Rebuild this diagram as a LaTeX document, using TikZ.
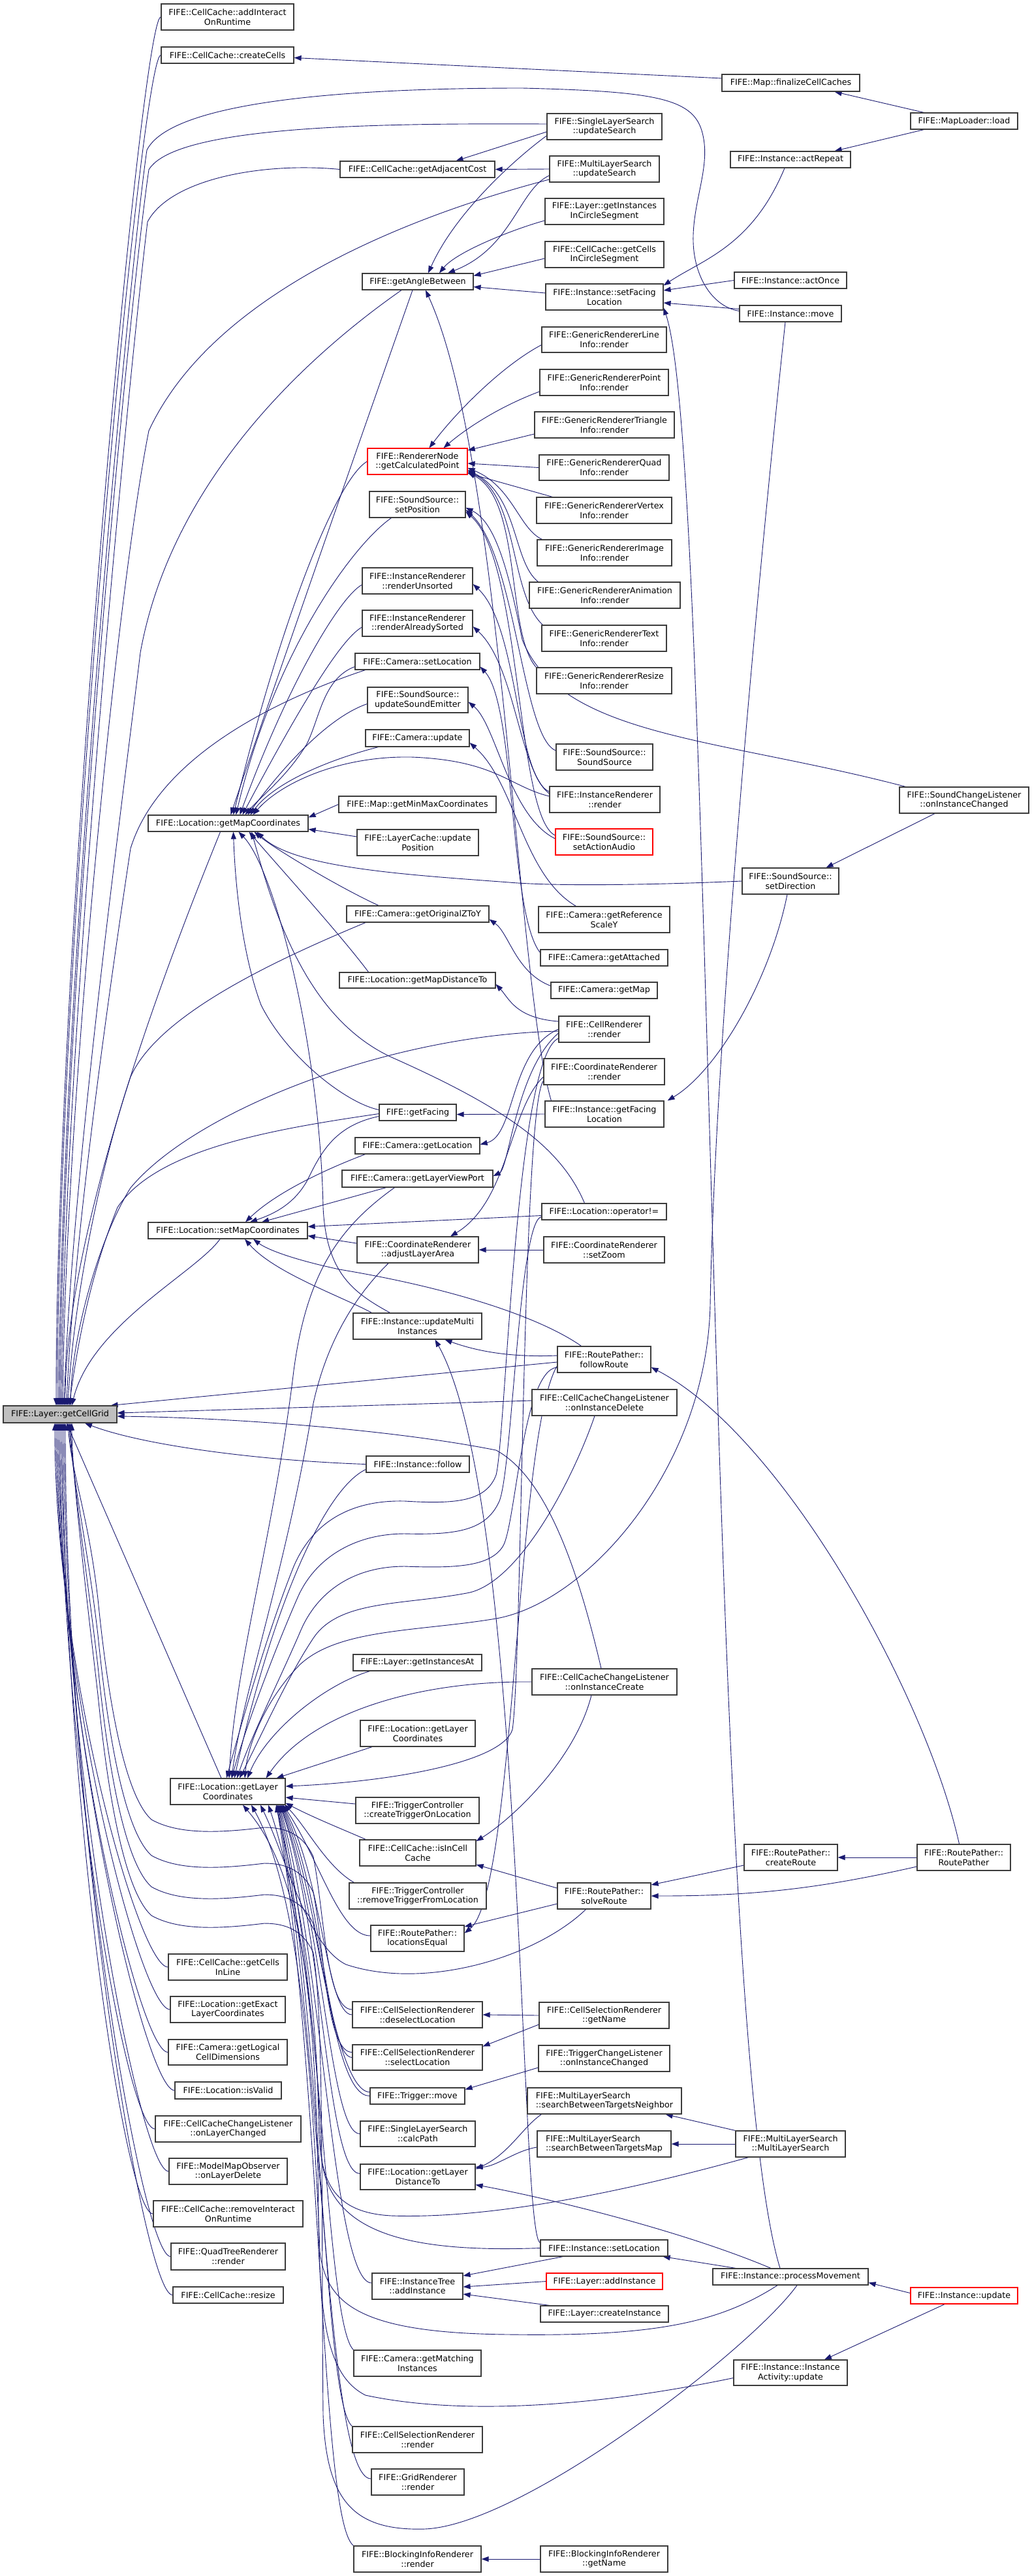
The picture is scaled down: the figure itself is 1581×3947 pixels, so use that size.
\documentclass[tikz,border=0pt]{standalone}
\usepackage{fontspec}
\setmainfont{DejaVu Sans}
\usetikzlibrary{arrows.meta}
\definecolor{navy}{RGB}{25,25,112}
\definecolor{bord}{RGB}{60,60,60}
\pgfdeclarelayer{bg}
\pgfsetlayers{bg,main}
\tikzset{
 bx/.style={draw=bord,line width=1.2pt,fill=white,inner sep=0pt,align=center,font=\fontsize{12.7pt}{14.7pt}\selectfont,text=black},
 redbx/.style={draw=red},
 edg/.style={draw=navy,line width=0.9pt,-{Triangle[length=11pt,width=8pt]}}
}
\newcommand\nd[7][]{\node[bx,#1,minimum width={(#5-#3)*1pt},minimum height={(#6-#4)*1pt}] (#2) at ({(#3+#5)/2},{-(#4+#6)/2}) {#7};}
\newcommand\gS[3]{\draw[edg] (#1) .. controls +(-40,0) and (497,{-#2-130}) .. (480,{-#2-45}) .. controls (465,{-#2-12}) and (440,{-#2}) .. (405,{-#2}) .. controls (340,{-#2-8}) and (275,{-#2-12}) .. (232,{-#2+12}) .. controls (190,{-#2+50}) and (165,{-#2+200}) .. (150,{-#2+350}) .. controls (135,{-#2+480}) and (110,-2260) .. ([xshift=#3pt]gcg.south);}
\begin{document}
\begin{tikzpicture}[x=1pt,y=1pt]
\useasboundingbox (0,0) rectangle (1581,-3947);
% ---------- nodes ----------
\nd[fill=gray!50]{gcg}{5}{2154}{179}{2180}{FIFE::Layer::getCellGrid}
\nd{addInteract}{247}{6}{450}{46}{FIFE::CellCache::addInteract\\OnRuntime}
\nd{createCells}{247}{72}{450}{97}{FIFE::CellCache::createCells}
\nd{getMapC}{227}{1249}{472}{1274}{FIFE::Location::getMapCoordinates}
\nd{setMapC}{227}{1873}{471}{1898}{FIFE::Location::setMapCoordinates}
\nd{getLayerC}{261}{2725}{437}{2765}{FIFE::Location::getLayer\\Coordinates}
\nd{cellsLine}{258}{2994}{440}{3034}{FIFE::CellCache::getCells\\InLine}
\nd{exactLC}{261}{3059}{437}{3099}{FIFE::Location::getExact\\LayerCoordinates}
\nd{logicalCD}{258}{3125}{440}{3164}{FIFE::Camera::getLogical\\CellDimensions}
\nd{isValid}{268}{3190}{431}{3216}{FIFE::Location::isValid}
\nd{onLayerCh}{238}{3242}{461}{3282}{FIFE::CellCacheChangeListener\\::onLayerChanged}
\nd{onLayerDel}{259}{3307}{440}{3347}{FIFE::ModelMapObserver\\::onLayerDelete}
\nd{removeIR}{235}{3372}{464}{3412}{FIFE::CellCache::removeInteract\\OnRuntime}
\nd{quadTree}{262}{3437}{437}{3478}{FIFE::QuadTreeRenderer\\::render}
\nd{resize}{265}{3504}{434}{3529}{FIFE::CellCache::resize}
% rank 2
\nd{adjCost}{521}{247}{758}{272}{FIFE::CellCache::getAdjacentCost}
\nd{angle}{555}{419}{725}{444}{FIFE::getAngleBetween}
\nd[redbx]{calcPoint}{563}{687}{716}{727}{FIFE::RendererNode\\::getCalculatedPoint}
\nd{ssSetPos}{566}{753}{713}{793}{FIFE::SoundSource::\\setPosition}
\nd{irUnsorted}{555}{870}{724}{910}{FIFE::InstanceRenderer\\::renderUnsorted}
\nd{irSorted}{555}{935}{724}{975}{FIFE::InstanceRenderer\\::renderAlreadySorted}
\nd{camSetLoc}{544}{1001}{735}{1026}{FIFE::Camera::setLocation}
\nd{ssEmitter}{563}{1053}{717}{1092}{FIFE::SoundSource::\\updateSoundEmitter}
\nd{camUpdate}{560}{1118}{719}{1144}{FIFE::Camera::update}
\nd{minMax}{519}{1220}{760}{1245}{FIFE::Map::getMinMaxCoordinates}
\nd{lcUpdate}{547}{1271}{733}{1311}{FIFE::LayerCache::update\\Position}
\nd{zToY}{531}{1388}{749}{1413}{FIFE::Camera::getOriginalZToY}
\nd{mapDist}{520}{1490}{759}{1514}{FIFE::Location::getMapDistanceTo}
\nd{getFacing}{581}{1692}{699}{1717}{FIFE::getFacing}
\nd{camGetLoc}{544}{1743}{735}{1768}{FIFE::Camera::getLocation}
\nd{viewPort}{524}{1793}{755}{1819}{FIFE::Camera::getLayerViewPort}
\nd{adjustArea}{547}{1895}{733}{1935}{FIFE::CoordinateRenderer\\::adjustLayerArea}
\nd{updMulti}{541}{2012}{738}{2052}{FIFE::Instance::updateMulti\\Instances}
\nd{follow}{561}{2231}{719}{2256}{FIFE::Instance::follow}
\nd{instAt}{541}{2535}{738}{2560}{FIFE::Layer::getInstancesAt}
\nd{getLayerCb}{552}{2636}{728}{2676}{FIFE::Location::getLayer\\Coordinates}
\nd{createTrig}{545}{2754}{734}{2794}{FIFE::TriggerController\\::createTriggerOnLocation}
\nd{isInCell}{551}{2819}{729}{2859}{FIFE::CellCache::isInCell\\Cache}
\nd{removeTrig}{535}{2885}{745}{2925}{FIFE::TriggerController\\::removeTriggerFromLocation}
\nd{locEqual}{568}{2950}{711}{2990}{FIFE::RoutePather::\\locationsEqual}
\nd{deselect}{540}{3067}{739}{3107}{FIFE::CellSelectionRenderer\\::deselectLocation}
\nd{select}{540}{3133}{739}{3172}{FIFE::CellSelectionRenderer\\::selectLocation}
\nd{trigMove}{567}{3199}{712}{3224}{FIFE::Trigger::move}
\nd{calcPath}{552}{3250}{728}{3289}{FIFE::SingleLayerSearch\\::calcPath}
\nd{layerDist}{552}{3316}{728}{3355}{FIFE::Location::getLayer\\DistanceTo}
\nd{addInst}{570}{3483}{709}{3523}{FIFE::InstanceTree\\::addInstance}
\nd{matching}{542}{3601}{737}{3641}{FIFE::Camera::getMatching\\Instances}
\nd{csRender}{540}{3718}{739}{3758}{FIFE::CellSelectionRenderer\\::render}
\nd{gridRender}{569}{3783}{711}{3823}{FIFE::GridRenderer\\::render}
\nd{blockRender}{542}{3901}{737}{3941}{FIFE::BlockingInfoRenderer\\::render}
% rank 3
\nd{slsUpdate}{838}{174}{1014}{214}{FIFE::SingleLayerSearch\\::updateSearch}
\nd{mlsUpdate}{842}{239}{1010}{279}{FIFE::MultiLayerSearch\\::updateSearch}
\nd{instCircle}{835}{304}{1017}{344}{FIFE::Layer::getInstances\\InCircleSegment}
\nd{cellsCircle}{835}{370}{1017}{410}{FIFE::CellCache::getCells\\InCircleSegment}
\nd{setFacing}{836}{435}{1016}{475}{FIFE::Instance::setFacing\\Location}
\nd{grLine}{830}{501}{1021}{540}{FIFE::GenericRendererLine\\Info::render}
\nd{grPoint}{827}{566}{1024}{606}{FIFE::GenericRendererPoint\\Info::render}
\nd{grTri}{819}{631}{1033}{671}{FIFE::GenericRendererTriangle\\Info::render}
\nd{grQuad}{826}{697}{1025}{736}{FIFE::GenericRendererQuad\\Info::render}
\nd{grVertex}{822}{762}{1029}{802}{FIFE::GenericRendererVertex\\Info::render}
\nd{grImage}{823}{827}{1029}{867}{FIFE::GenericRendererImage\\Info::render}
\nd{grAnim}{811}{892}{1042}{932}{FIFE::GenericRendererAnimation\\Info::render}
\nd{grText}{830}{958}{1021}{998}{FIFE::GenericRendererText\\Info::render}
\nd{grResize}{822}{1023}{1029}{1063}{FIFE::GenericRendererResize\\Info::render}
\nd{ssCtor}{852}{1140}{1000}{1180}{FIFE::SoundSource::\\SoundSource}
\nd{irRender}{842}{1205}{1011}{1245}{FIFE::InstanceRenderer\\::render}
\nd[redbx]{ssAction}{851}{1270}{1000}{1310}{FIFE::SoundSource::\\setActionAudio}
\nd{refScale}{825}{1389}{1026}{1429}{FIFE::Camera::getReference\\ScaleY}
\nd{getAttached}{828}{1455}{1023}{1480}{FIFE::Camera::getAttached}
\nd{getMap}{844}{1505}{1007}{1530}{FIFE::Camera::getMap}
\nd{cellRender}{856}{1557}{995}{1597}{FIFE::CellRenderer\\::render}
\nd{coordRender}{833}{1622}{1018}{1662}{FIFE::CoordinateRenderer\\::render}
\nd{getFacingLoc}{835}{1687}{1017}{1727}{FIFE::Instance::getFacing\\Location}
\nd{opNe}{830}{1844}{1021}{1869}{FIFE::Location::operator!=}
\nd{setZoom}{833}{1895}{1018}{1935}{FIFE::CoordinateRenderer\\::setZoom}
\nd{followRoute}{854}{2063}{997}{2103}{FIFE::RoutePather::\\followRoute}
\nd{onDelete}{815}{2129}{1037}{2169}{FIFE::CellCacheChangeListener\\::onInstanceDelete}
\nd{onCreate}{815}{2557}{1037}{2597}{FIFE::CellCacheChangeListener\\::onInstanceCreate}
\nd{solveRoute}{854}{2885}{997}{2925}{FIFE::RoutePather::\\solveRoute}
\nd{csGetName}{826}{3068}{1025}{3108}{FIFE::CellSelectionRenderer\\::getName}
\nd{trigChange}{825}{3134}{1026}{3174}{FIFE::TriggerChangeListener\\::onInstanceChanged}
\nd[align=left]{stNeighbor}{808}{3199}{1044}{3239}{FIFE::MultiLayerSearch\\::searchBetweenTargetsNeighbor}
\nd[align=left]{stMap}{823}{3265}{1028}{3305}{FIFE::MultiLayerSearch\\::searchBetweenTargetsMap}
\nd{setLoc}{828}{3432}{1023}{3457}{FIFE::Instance::setLocation}
\nd[redbx]{layerAdd}{837}{3483}{1015}{3508}{FIFE::Layer::addInstance}
\nd{layerCreate}{828}{3533}{1024}{3558}{FIFE::Layer::createInstance}
\nd{blockName}{828}{3901}{1023}{3941}{FIFE::BlockingInfoRenderer\\::getName}
% rank 4
\nd{finalize}{1106}{114}{1317}{140}{FIFE::Map::finalizeCellCaches}
\nd{actRepeat}{1119}{232}{1303}{257}{FIFE::Instance::actRepeat}
\nd{actOnce}{1125}{417}{1297}{442}{FIFE::Instance::actOnce}
\nd{move}{1133}{468}{1289}{493}{FIFE::Instance::move}
\nd{setDir}{1137}{1330}{1285}{1370}{FIFE::SoundSource::\\setDirection}
\nd{createRoute}{1140}{2826}{1283}{2866}{FIFE::RoutePather::\\createRoute}
\nd{mlsCtor}{1127}{3265}{1295}{3305}{FIFE::MultiLayerSearch\\::MultiLayerSearch}
\nd{procMove}{1092}{3476}{1330}{3501}{FIFE::Instance::processMovement}
\nd{actUpdate}{1124}{3616}{1298}{3655}{FIFE::Instance::Instance\\Activity::update}
% rank 5
\nd{loader}{1395}{173}{1559}{198}{FIFE::MapLoader::load}
\nd{sndChange}{1378}{1206}{1576}{1246}{FIFE::SoundChangeListener\\::onInstanceChanged}
\nd{rpCtor}{1405}{2826}{1548}{2866}{FIFE::RoutePather::\\RoutePather}
\nd[redbx]{instUpdate}{1395}{3505}{1559}{3530}{FIFE::Instance::update}
% ---------- edges ----------
\begin{pgfonlayer}{bg}
\fill[white] (0,0) rectangle (1581,-3947);
% top right cluster
\draw[edg] ([xshift=21pt]loader.north west) -- ([xshift=-39pt]finalize.south east);
\draw[edg] ([xshift=21pt]loader.south west) -- ([xshift=-25pt]actRepeat.north east);
\draw[edg] ([yshift=7pt]finalize.west) -- ([yshift=-4pt]createCells.east);
\draw[edg] ([xshift=-9pt]actRepeat.south) .. controls +(-50,-120) and +(60,40) .. ([yshift=-3pt]setFacing.north east);
\draw[edg] (actOnce.west) -- ([yshift=10pt]setFacing.east);
\draw[edg] ([yshift=7pt]move.west) -- ([yshift=-9pt]setFacing.east);
\draw[edg] ([xshift=-16pt]procMove.north) .. controls (1080,-3100) and (1095,-700) .. ([yshift=4pt]setFacing.south east);
\draw[edg] ([yshift=4pt]move.west) .. controls (1090,-470) and (1060,-420) .. (1062,-360) .. controls (1064,-300) and (1090,-250) .. (1075,-200) .. controls (1060,-150) and (1000,-140) .. (800,-135) .. controls (500,-135) and (260,-160) .. (225,-230) .. controls (200,-400) and (94,-1500) .. ([xshift=-2pt]gcg.north);
\draw[edg] ([xshift=-8pt]move.south) .. controls (1160,-900) and (1095,-1600) .. (1088,-2000) .. controls (1082,-2250) and (900,-2455) .. (760,-2480) .. controls (640,-2500) and (520,-2495) .. (460,-2550) .. controls (410,-2600) and (380,-2670) .. ([xshift=26pt]getLayerC.north);
% search
\draw[edg] ([yshift=4pt]slsUpdate.west) .. controls (600,-189) and (270,-190) .. (228,-260) .. controls (200,-450) and (96,-1500) .. (gcg.north);
\draw[edg] ([yshift=-8pt]slsUpdate.west) -- ([xshift=-60pt]adjCost.north east);
\draw[edg] ([yshift=-14pt]slsUpdate.west) .. controls (800,-235) and (700,-320) .. ([xshift=16pt]angle.north);
\draw[edg] (mlsUpdate.west) -- (adjCost.east);
\draw[edg] ([yshift=-10pt]mlsUpdate.west) .. controls (795,-290) and (785,-380) .. ([xshift=46pt]angle.north);
\draw[edg] ([yshift=-16pt]mlsUpdate.west) .. controls (650,-325) and (330,-440) .. (228,-660) .. controls (180,-900) and (100,-1700) .. ([xshift=4pt]gcg.north);
\draw[edg] ([yshift=-14pt]instCircle.west) .. controls (790,-350) and (700,-385) .. ([xshift=33pt]angle.north);
\draw[edg] ([yshift=-6pt]cellsCircle.west) -- ([yshift=9pt]angle.east);
\draw[edg] ([yshift=6pt]setFacing.west) -- ([yshift=-8pt]angle.east);
\draw[edg] (adjCost.west) .. controls (400,-248) and (260,-275) .. (226,-340) .. controls (195,-600) and (98,-1600) .. ([xshift=2pt]gcg.north);
\draw[edg] ([xshift=-8pt]angle.south) .. controls (560,-650) and (420,-1050) .. ([xshift=4pt]getMapC.north);
\draw[edg] ([xshift=-25pt]angle.south) .. controls (450,-560) and (260,-750) .. (215,-1000) .. controls (185,-1250) and (110,-1800) .. ([xshift=6pt]gcg.north);
\draw[edg] ([xshift=10pt]getFacingLoc.north west) .. controls (790,-1500) and (770,-700) .. ([xshift=12pt]angle.south);
\draw[edg] (addInteract.west) .. controls +(-30,0) and +(0,700) .. ([xshift=-6pt]gcg.north);
\draw[edg] (createCells.west) .. controls +(-30,0) and +(0,700) .. ([xshift=-4pt]gcg.north);
% generic renderers
\draw[edg] ([yshift=-8pt]grLine.west) .. controls (770,-560) and (700,-630) .. ([xshift=18pt]calcPoint.north);
\draw[edg] ([yshift=-14pt]grPoint.west) .. controls (760,-625) and (710,-660) .. ([xshift=40pt]calcPoint.north);
\draw[edg] ([yshift=-14pt]grTri.west) -- ([yshift=17pt]calcPoint.east);
\draw[edg] (grQuad.west) -- ([yshift=-3pt]calcPoint.east);
\draw[edg] ([xshift=25pt]grVertex.north west) -- ([yshift=-18pt]calcPoint.east);
\draw[edg] ([xshift=8pt]grImage.north west) .. controls (795,-810) and (785,-745) .. ([yshift=-10pt]calcPoint.east);
\draw[edg] ([xshift=14pt]grAnim.north west) .. controls (785,-860) and (795,-760) .. ([yshift=-13pt]calcPoint.east);
\draw[edg] ([xshift=2pt]grText.north west) .. controls (780,-910) and (795,-760) .. ([yshift=-15pt]calcPoint.east);
\draw[edg] (grResize.north west) .. controls (775,-970) and (800,-765) .. ([yshift=-17pt]calcPoint.east);
% into getMapCoordinates (top)
\draw[edg] (calcPoint.west) .. controls (515,-735) and (430,-950) .. ([xshift=8pt]getMapC.north);
\draw[edg] ([xshift=-40pt]ssSetPos.south) .. controls (540,-835) and (420,-1000) .. ([xshift=12pt]getMapC.north);
\draw[edg] ([yshift=-6pt]irUnsorted.west) .. controls (520,-915) and (440,-1050) .. ([xshift=18pt]getMapC.north);
\draw[edg] ([yshift=-6pt]irSorted.west) .. controls (520,-980) and (450,-1100) .. ([xshift=22pt]getMapC.north);
\draw[edg] ([yshift=-8pt]camSetLoc.west) .. controls (495,-1040) and (490,-1100) .. (470,-1140) .. controls (440,-1190) and (400,-1220) .. ([xshift=26pt]getMapC.north);
\draw[edg] ([xshift=-80pt]camSetLoc.south) .. controls (400,-1080) and (240,-1170) .. (200,-1300) .. controls (170,-1500) and (112,-1900) .. ([xshift=10pt]gcg.north);
\draw[edg] ([yshift=-6pt]ssEmitter.west) .. controls (500,-1100) and (430,-1180) .. ([xshift=30pt]getMapC.north);
\draw[edg] ([xshift=-60pt]camUpdate.south) .. controls (500,-1165) and (420,-1200) .. ([xshift=34pt]getMapC.north);
\draw[edg] ([yshift=5pt]irRender.west) .. controls (780,-1205) and (760,-1165) .. (630,-1160) .. controls (520,-1158) and (430,-1200) .. ([xshift=38pt]getMapC.north);
\draw[edg] (minMax.west) -- ([yshift=9pt]getMapC.east);
\draw[edg] ([yshift=9pt]lcUpdate.west) -- ([yshift=-9pt]getMapC.east);
\draw[edg] ([xshift=-12pt]getMapC.south) .. controls +(-40,-100) and +(0,300) .. ([xshift=8pt]gcg.north);
% sound
\draw[edg] ([xshift=10pt]sndChange.north west) .. controls (1100,-1130) and (860,-1130) .. (800,-980) .. controls (780,-880) and (760,-800) .. ([yshift=-5pt]ssSetPos.east);
\draw[edg] ([yshift=10pt]ssCtor.west) .. controls (800,-1130) and (790,-850) .. ([yshift=-8pt]ssSetPos.east);
\draw[edg] ([yshift=10pt]ssAction.west) .. controls (790,-1250) and (800,-860) .. ([yshift=-11pt]ssSetPos.east);
\draw[edg] ([yshift=5pt]ssAction.west) .. controls (780,-1250) and (760,-1110) .. ([yshift=-3pt]ssEmitter.east);
\draw[edg] ([xshift=-45pt]sndChange.south) -- ([xshift=-20pt]setDir.north east);
\draw[edg] ([xshift=-5pt]setDir.south) .. controls (1180,-1500) and (1100,-1640) .. ([xshift=5pt]getFacingLoc.north east);
\draw[edg] (setDir.west) .. controls (1000,-1356) and (850,-1358) .. (780,-1352) .. controls (620,-1340) and (450,-1330) .. ([xshift=44pt]getMapC.south);
% instance renderer, camera
\draw[edg] ([yshift=12pt]irRender.west) .. controls (790,-1190) and (795,-960) .. ([yshift=-5pt]irUnsorted.east);
\draw[edg] ([yshift=9pt]irRender.west) .. controls (795,-1180) and (790,-1020) .. ([yshift=-5pt]irSorted.east);
\draw[edg] ([xshift=58pt]refScale.north west) .. controls (800,-1340) and (790,-1200) .. ([yshift=-7pt]camUpdate.east);
\draw[edg] ([yshift=8pt]getAttached.west) .. controls (780,-1400) and (790,-1080) .. ([yshift=-8pt]camSetLoc.east);
\draw[edg] ([yshift=7pt]getMap.west) .. controls (790,-1490) and (780,-1430) .. ([yshift=-8pt]zToY.east);
\draw[edg] ([yshift=12pt]cellRender.west) .. controls (790,-1560) and (780,-1530) .. ([yshift=-6pt]mapDist.east);
\draw[edg] (cellRender.west) .. controls (780,-1610) and (790,-1740) .. ([yshift=2pt]camGetLoc.east);
\draw[edg] ([yshift=-6pt]cellRender.west) .. controls (790,-1640) and (780,-1790) .. ([yshift=4pt]viewPort.east);
\draw[edg] ([yshift=-3pt]cellRender.west) .. controls (600,-1585) and (300,-1700) .. (200,-1820) .. controls (150,-1900) and (110,-2050) .. ([xshift=16pt]gcg.north);
\draw[edg] ([yshift=-14pt]cellRender.west) .. controls (790,-1620) and (775,-2200) .. (760,-2260) .. controls (745,-2300) and (700,-2305) .. (620,-2300) .. controls (540,-2298) and (480,-2330) .. (450,-2400) .. controls (410,-2500) and (370,-2640) .. ([xshift=-2pt]getLayerC.north);
\draw[edg] ([yshift=-8pt]coordRender.west) .. controls (780,-1700) and (780,-1840) .. ([xshift=50pt]adjustArea.north);
\draw[edg] ([yshift=-14pt]coordRender.west) .. controls (800,-1700) and (800,-2550) .. (785,-2650) .. controls (770,-2700) and (600,-2730) .. ([yshift=8pt]getLayerC.east);
\draw[edg] (setZoom.west) -- (adjustArea.east);
\draw[edg] (getFacingLoc.west) -- ([yshift=-3pt]getFacing.east);
% getMapCoordinates (bottom)
\draw[edg] ([xshift=-60pt]zToY.north) .. controls (520,-1360) and (420,-1300) .. ([xshift=40pt]getMapC.south);
\draw[edg] ([xshift=-80pt]zToY.south) .. controls (400,-1480) and (240,-1560) .. (200,-1650) .. controls (150,-1800) and (112,-2000) .. ([xshift=12pt]gcg.north);
\draw[edg] ([xshift=-75pt]mapDist.north) .. controls (520,-1430) and (420,-1320) .. ([xshift=32pt]getMapC.south);
\draw[edg] ([yshift=4pt]getFacing.west) .. controls (530,-1690) and (440,-1620) .. (400,-1540) .. controls (370,-1460) and (360,-1350) .. ([xshift=8pt]getMapC.south);
\draw[edg] ([xshift=-70pt]updMulti.north) .. controls (520,-1985) and (420,-1950) .. ([xshift=26pt]setMapC.south);
\draw[edg] ([xshift=-42pt]updMulti.north) .. controls (540,-1980) and (500,-1950) .. (495,-1850) .. controls (490,-1600) and (420,-1330) .. ([xshift=16pt]getMapC.south);
\draw[edg] ([xshift=-30pt]opNe.north) .. controls (860,-1760) and (780,-1700) .. (600,-1620) .. controls (470,-1560) and (420,-1400) .. ([xshift=36pt]getMapC.south);
% setMapCoordinates
\draw[edg] ([yshift=-6pt]getFacing.west) .. controls (510,-1725) and (490,-1770) .. (470,-1810) .. controls (450,-1845) and (420,-1860) .. ([xshift=34pt]setMapC.north);
\draw[edg] ([yshift=-2pt]getFacing.west) .. controls (420,-1730) and (240,-1760) .. (180,-1850) .. controls (140,-1950) and (120,-2050) .. ([xshift=14pt]gcg.north);
\draw[edg] ([xshift=-80pt]camGetLoc.south) .. controls (490,-1795) and (420,-1830) .. ([xshift=27pt]setMapC.north);
\draw[edg] ([xshift=-48pt]viewPort.south) -- ([xshift=52pt]setMapC.north);
\draw[edg] ([yshift=-6pt]opNe.west) -- ([yshift=6pt]setMapC.east);
\draw[edg] ([yshift=10pt]adjustArea.west) -- ([yshift=-8pt]setMapC.east);
\draw[edg] ([xshift=-35pt]followRoute.north) .. controls (830,-2020) and (700,-1975) .. (520,-1945) .. controls (450,-1930) and (410,-1915) .. ([xshift=39pt]setMapC.south);
\draw[edg] ([xshift=-12pt]setMapC.south) .. controls (300,-1950) and (140,-2030) .. ([xshift=18pt]gcg.north);
\draw[edg] ([xshift=-35pt]viewPort.south) .. controls (520,-1880) and (470,-1950) .. (450,-2100) .. controls (420,-2350) and (360,-2550) .. ([xshift=2pt]getLayerC.north);
\draw[edg] ([xshift=-45pt]adjustArea.south) .. controls (540,-1990) and (500,-2060) .. (480,-2150) .. controls (440,-2400) and (370,-2600) .. ([xshift=6pt]getLayerC.north);
% middle
\draw[edg] ([yshift=-4pt]followRoute.west) -- ([xshift=-10pt]gcg.north east);
\draw[edg] ([yshift=3pt]onDelete.west) -- ([yshift=2pt]gcg.east);
\draw[edg] ([xshift=-5pt]onCreate.north) .. controls (880,-2380) and (830,-2260) .. (760,-2222) .. controls (600,-2190) and (350,-2172) .. ([yshift=-3pt]gcg.east);
\draw[edg] (follow.west) .. controls (400,-2238) and (220,-2215) .. ([xshift=38pt]gcg.south);
\draw[edg] ([yshift=-8pt]follow.west) .. controls (500,-2280) and (420,-2450) .. ([xshift=10pt]getLayerC.north);
\draw[edg] ([yshift=6pt]followRoute.west) .. controls (780,-2080) and (730,-2070) .. ([xshift=42pt]updMulti.south);
\draw[edg] ([yshift=-12pt]followRoute.west) .. controls (800,-2100) and (790,-2340) .. (770,-2370) .. controls (750,-2400) and (700,-2403) .. (620,-2400) .. controls (540,-2400) and (485,-2440) .. (460,-2500) .. controls (430,-2570) and (385,-2660) .. ([xshift=14pt]getLayerC.north);
\draw[edg] ([yshift=-10pt]followRoute.west) .. controls (790,-2200) and (790,-2900) .. ([yshift=8pt]locEqual.east);
\draw[edg] ([yshift=-8pt]opNe.west) .. controls (795,-1870) and (785,-2250) .. (765,-2300) .. controls (745,-2345) and (700,-2352) .. (620,-2350) .. controls (540,-2350) and (480,-2390) .. (455,-2450) .. controls (420,-2530) and (375,-2650) .. ([xshift=6pt]getLayerC.north);
\draw[edg] ([xshift=-15pt]onDelete.south) .. controls (880,-2260) and (800,-2420) .. (720,-2440) .. controls (620,-2460) and (520,-2450) .. (480,-2510) .. controls (440,-2570) and (400,-2660) .. ([xshift=18pt]getLayerC.north);
\draw[edg] (onCreate.west) .. controls (650,-2575) and (480,-2620) .. ([xshift=-30pt]getLayerC.north east);
\draw[edg] ([xshift=-20pt]onCreate.south) .. controls (880,-2700) and (780,-2790) .. ([yshift=18pt]isInCell.east);
\draw[edg] ([xshift=-73pt]instAt.south) .. controls (500,-2580) and (410,-2650) .. ([xshift=30pt]getLayerC.north);
\draw[edg] ([xshift=-70pt]getLayerCb.south) -- ([xshift=-14pt]getLayerC.north east);
\draw[edg] ([yshift=10pt]createTrig.west) -- ([yshift=-9pt]getLayerC.east);
\draw[edg] ([xshift=-10pt]getLayerC.north) -- ([xshift=10pt]gcg.south);
% rank 1 below -> getCellGrid
\draw[edg] (cellsLine.west) .. controls +(-45,0) and +(0,-375) .. ([xshift=-8pt]gcg.south);
\draw[edg] (exactLC.west) .. controls +(-45,0) and +(0,-400) .. ([xshift=-6pt]gcg.south);
\draw[edg] (logicalCD.west) .. controls +(-45,0) and +(0,-430) .. ([xshift=-4pt]gcg.south);
\draw[edg] (isValid.west) .. controls +(-45,0) and +(0,-460) .. ([xshift=-2pt]gcg.south);
\draw[edg] (onLayerCh.west) .. controls +(-45,0) and +(0,-490) .. (gcg.south);
\draw[edg] (onLayerDel.west) .. controls +(-45,0) and +(0,-515) .. ([xshift=2pt]gcg.south);
\draw[edg] (removeIR.west) .. controls +(-45,0) and +(0,-545) .. ([xshift=4pt]gcg.south);
\draw[edg] (quadTree.west) .. controls +(-45,0) and +(0,-575) .. ([xshift=6pt]gcg.south);
\draw[edg] (resize.west) .. controls +(-45,0) and +(0,-600) .. ([xshift=8pt]gcg.south);
% S curves to getCellGrid
\gS{[yshift=8pt]deselect.west}{2800}{12}
\gS{[yshift=8pt]select.west}{2855}{14}
\gS{[yshift=6pt]trigMove.west}{2903}{16}
\draw[edg] ([xshift=10pt]procMove.south) .. controls (1150,-3600) and (800,-3870) .. (650,-3875) .. controls (540,-3878) and (500,-3830) .. (495,-3700) .. controls (492,-3400) and (497,-3100) .. (480,-2992) .. controls (465,-2959) and (440,-2947) .. (405,-2947) .. controls (340,-2955) and (275,-2959) .. (232,-2935) .. controls (190,-2897) and (165,-2747) .. (150,-2597) .. controls (135,-2467) and (110,-2260) .. ([xshift=18pt]gcg.south);
% fan into getLayerCoordinates
\draw[edg] ([xshift=10pt]isInCell.north west) .. controls (530,-2805) and (480,-2785) .. ([yshift=3pt]getLayerC.south east);
\draw[edg] ([xshift=8pt]removeTrig.north west) .. controls (500,-2860) and (470,-2800) .. ([xshift=-2pt,yshift=1pt]getLayerC.south east);
\draw[edg] ([yshift=4pt]locEqual.west) .. controls (520,-2966) and (490,-2850) .. ([xshift=-4pt]getLayerC.south east);
\draw[edg] (deselect.west) .. controls (500,-3087) and (495,-2880) .. ([xshift=-5pt]getLayerC.south east);
\draw[edg] (select.west) .. controls (500,-3152) and (495,-2900) .. ([xshift=-6pt]getLayerC.south east);
\draw[edg] (trigMove.west) .. controls (505,-3211) and (495,-2920) .. ([xshift=-7pt]getLayerC.south east);
\draw[edg] (calcPath.west) .. controls (505,-3270) and (495,-2940) .. ([xshift=-8pt]getLayerC.south east);
\draw[edg] ([yshift=5pt]layerDist.west) .. controls (500,-3330) and (495,-2950) .. ([xshift=-9pt]getLayerC.south east);
\draw[edg] ([yshift=5pt]addInst.west) .. controls (510,-3498) and (495,-3000) .. ([xshift=-10pt]getLayerC.south east);
\draw[edg] (matching.north west) .. controls (500,-3560) and (495,-3050) .. ([xshift=-11pt]getLayerC.south east);
\draw[edg] (csRender.north west) .. controls (495,-3680) and (495,-3100) .. ([xshift=-12pt]getLayerC.south east);
\draw[edg] ([yshift=5pt]gridRender.west) .. controls (500,-3798) and (495,-3150) .. ([xshift=-13pt]getLayerC.south east);
\draw[edg] (blockRender.north west) .. controls (490,-3860) and (495,-3200) .. ([xshift=-14pt]getLayerC.south east);
% route pather
\draw[edg] ([xshift=-7pt]rpCtor.north) .. controls (1420,-2600) and (1200,-2200) .. ([yshift=-12pt]followRoute.east);
\draw[edg] (rpCtor.west) -- (createRoute.east);
\draw[edg] ([yshift=-14pt]rpCtor.west) .. controls (1250,-2895) and (1150,-2905) .. (solveRoute.east);
\draw[edg] ([yshift=-12pt]createRoute.west) -- ([yshift=17pt]solveRoute.east);
\draw[edg] ([yshift=12pt]solveRoute.west) -- ([yshift=-18pt]isInCell.east);
\draw[edg] ([yshift=-12pt]solveRoute.west) -- ([yshift=18pt]locEqual.east);
\draw[edg] ([xshift=-28pt]solveRoute.south) .. controls (820,-3000) and (650,-3050) .. (530,-3010) .. controls (470,-2980) and (440,-2850) .. ([xshift=50pt]getLayerC.south);
% cell selection, triggers
\draw[edg] (csGetName.west) -- (deselect.east);
\draw[edg] ([yshift=-14pt]csGetName.west) -- ([yshift=17pt]select.east);
\draw[edg] ([yshift=-14pt]trigChange.west) -- ([yshift=10pt]trigMove.east);
% multi layer search
\draw[edg] (mlsCtor.north west) -- ([xshift=-25pt]stNeighbor.south east);
\draw[edg] (mlsCtor.west) -- (stMap.east);
\draw[edg] ([xshift=22pt]stNeighbor.south west) .. controls (800,-3260) and (780,-3300) .. ([yshift=12pt]layerDist.east);
\draw[edg] ([yshift=-5pt]stMap.west) .. controls (790,-3295) and (760,-3320) .. ([yshift=15pt]layerDist.east);
\draw[edg] ([xshift=20pt]mlsCtor.south west) .. controls (950,-3360) and (750,-3400) .. (600,-3395) .. controls (500,-3390) and (490,-3330) .. (488,-3250) .. controls (485,-3000) and (440,-2850) .. ([xshift=74pt]getLayerC.south);
% process movement etc.
\draw[edg] ([xshift=-30pt]procMove.north) .. controls (1050,-3420) and (850,-3370) .. ([yshift=-12pt]layerDist.east);
\draw[edg] ([xshift=36pt]procMove.north west) -- ([xshift=-8pt]setLoc.south east);
\draw[edg] ([xshift=-20pt]procMove.south) .. controls (1100,-3560) and (1000,-3580) .. (781,-3577) .. controls (550,-3575) and (500,-3530) .. (490,-3450) .. controls (480,-3200) and (460,-2900) .. ([xshift=36pt]getLayerC.south);
\draw[edg] ([yshift=-8pt]actUpdate.west) .. controls (900,-3690) and (700,-3700) .. (560,-3670) .. controls (500,-3640) and (490,-3550) .. (488,-3400) .. controls (485,-3100) and (470,-2880) .. ([xshift=23pt]getLayerC.south);
\draw[edg] (setLoc.west) .. controls (620,-3452) and (500,-3420) .. (492,-3300) .. controls (485,-3050) and (440,-2850) .. ([xshift=62pt]getLayerC.south);
\draw[edg] ([yshift=8pt]setLoc.west) .. controls (795,-3420) and (805,-2300) .. ([xshift=27pt]updMulti.south);
\draw[edg] ([xshift=35pt]setLoc.south west) -- ([yshift=16pt]addInst.east);
\draw[edg] (layerAdd.west) -- ([yshift=-1pt]addInst.east);
\draw[edg] ([xshift=15pt]layerCreate.north west) -- ([yshift=-12pt]addInst.east);
\draw[edg] ([yshift=4pt]instUpdate.west) -- ([yshift=-9pt]procMove.east);
\draw[edg] ([xshift=-30pt]instUpdate.south) -- ([xshift=52pt]actUpdate.north);
\draw[edg] (blockName.west) -- (blockRender.east);
\end{pgfonlayer}
\end{tikzpicture}
\end{document}
